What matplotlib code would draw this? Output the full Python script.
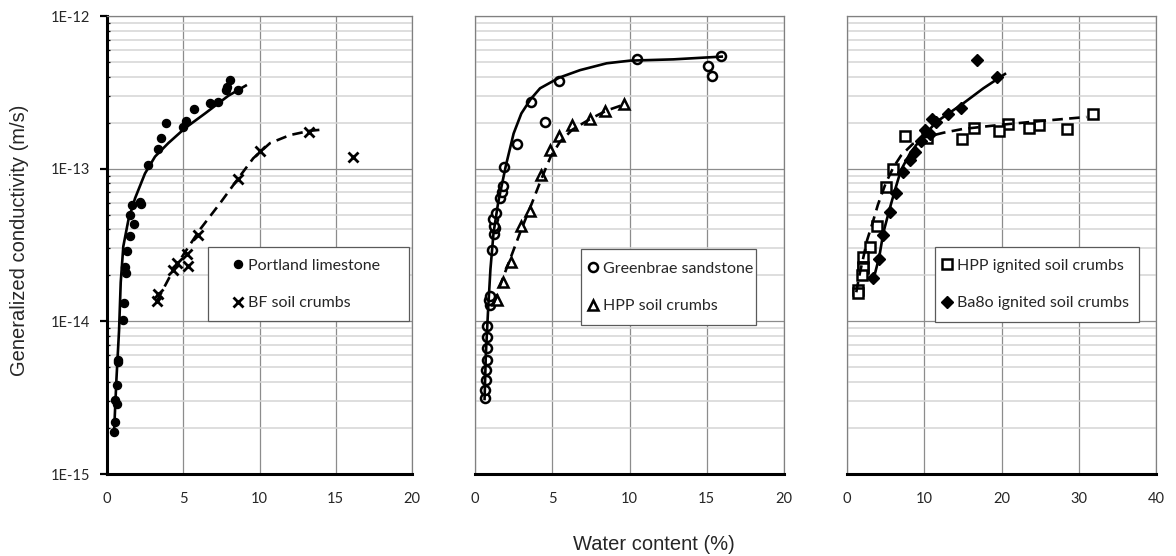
import numpy as np
import matplotlib
matplotlib.use("Agg")
import matplotlib.pyplot as plt
from matplotlib.ticker import LogLocator, FixedLocator, FuncFormatter, NullFormatter
from matplotlib.patches import Rectangle

# ---------------- data ----------------
# Panel 1
portland_w = [8.07, 7.87, 7.78, 8.6, 7.3, 6.75, 5.7, 5.2, 4.96, 3.85, 3.52, 3.37, 2.71,
              2.16, 2.2, 1.64, 1.51, 1.77, 1.51, 1.29, 1.18, 1.22, 1.14, 1.03, 0.70,
              0.72, 0.63, 0.52, 0.66, 0.52, 0.46]
portland_k = [3.81e-13, 3.43e-13, 3.3e-13, 3.3e-13, 2.73e-13, 2.7e-13, 2.45e-13, 2.06e-13,
              1.88e-13, 2.0e-13, 1.6e-13, 1.34e-13, 1.05e-13, 6.05e-14, 5.9e-14, 5.75e-14,
              5.0e-14, 4.33e-14, 3.63e-14, 2.9e-14, 2.28e-14, 2.06e-14, 1.31e-14, 1.02e-14,
              5.58e-15, 5.4e-15, 3.8e-15, 3.06e-15, 2.88e-15, 2.2e-15, 1.87e-15]
portland_fit_w = [0.46, 0.62, 0.79, 0.90, 1.07, 1.40, 1.84, 2.49, 3.15, 4.02, 5.11, 6.43, 7.95, 9.1]
portland_fit_k = [1.86e-15, 4.2e-15, 8.7e-15, 1.8e-14, 3.1e-14, 4.6e-14, 6.4e-14, 9.3e-14,
                  1.2e-13, 1.47e-13, 1.84e-13, 2.3e-13, 3.0e-13, 3.5e-13]

bf_w = [3.30, 3.37, 4.35, 4.61, 5.27, 5.29, 5.99, 8.61, 10.03, 13.27, 16.11]
bf_k = [1.36e-14, 1.5e-14, 2.17e-14, 2.4e-14, 2.76e-14, 2.3e-14, 3.68e-14, 8.55e-14,
        1.31e-13, 1.75e-13, 1.19e-13]
bf_fit_w = [3.26, 4.35, 6.1, 7.41, 8.61, 9.59, 10.69, 12.0, 13.3, 14.3]
bf_fit_k = [1.35e-14, 2.17e-14, 4.0e-14, 5.93e-14, 8.65e-14, 1.17e-13, 1.47e-13, 1.66e-13,
            1.77e-13, 1.81e-13]

# Panel 2
greenbrae_w = [0.65, 0.65, 0.7, 0.7, 0.75, 0.75, 0.8, 0.8, 0.95, 0.9, 0.95, 1.1, 1.25,
               1.3, 1.2, 1.15, 1.35, 1.6, 1.75, 1.8, 1.9, 2.7, 3.6, 4.53, 5.46, 10.47,
               15.06, 15.32, 15.9]
greenbrae_k = [3.15e-15, 3.55e-15, 4.13e-15, 4.8e-15, 5.6e-15, 6.7e-15, 7.9e-15, 9.3e-15,
               1.28e-14, 1.38e-14, 1.47e-14, 2.93e-14, 3.73e-14, 4.08e-14, 4.2e-14,
               4.68e-14, 5.1e-14, 6.4e-14, 7.0e-14, 7.7e-14, 1.03e-13, 1.45e-13, 2.73e-13,
               2.03e-13, 3.77e-13, 5.2e-13, 4.73e-13, 4.07e-13, 5.47e-13]
greenbrae_fit_w = [0.62, 0.7, 0.85, 1.0, 1.2, 1.5, 2.0, 2.5, 3.0, 3.6, 4.21, 5.46, 6.8,
                   8.52, 10.03, 12.84, 15.97]
greenbrae_fit_k = [3.1e-15, 6e-15, 1.2e-14, 2.2e-14, 3.8e-14, 6e-14, 1.05e-13, 1.7e-13,
                   2.3e-13, 2.85e-13, 3.36e-13, 3.95e-13, 4.42e-13, 4.9e-13, 5.1e-13,
                   5.2e-13, 5.42e-13]

hpp_w = [1.42, 1.81, 2.33, 2.98, 3.56, 4.27, 4.85, 5.44, 6.26, 7.44, 8.41, 9.64]
hpp_k = [1.38e-14, 1.8e-14, 2.45e-14, 4.2e-14, 5.3e-14, 9.1e-14, 1.33e-13, 1.64e-13,
         1.93e-13, 2.1e-13, 2.39e-13, 2.64e-13]
hpp_fit_w = [1.2, 1.7, 2.3, 3.0, 3.7, 4.3, 4.9, 5.5, 6.3, 7.4, 8.5, 9.5]
hpp_fit_k = [1.3e-14, 1.8e-14, 2.6e-14, 4.0e-14, 6.0e-14, 8.6e-14, 1.2e-13, 1.5e-13,
             1.8e-13, 2.1e-13, 2.4e-13, 2.6e-13]

# Panel 3
hppig_w = [31.8, 28.44, 24.9, 23.6, 20.88, 19.72, 16.44, 14.85, 10.32, 7.51, 5.91, 5.05,
           3.84, 2.98, 2.12, 2.12, 2.03, 1.99, 1.47, 1.47]
hppig_k = [2.28e-13, 1.81e-13, 1.93e-13, 1.84e-13, 1.95e-13, 1.77e-13, 1.85e-13, 1.56e-13,
           1.58e-13, 1.64e-13, 9.9e-14, 7.55e-14, 4.2e-14, 3.08e-14, 2.63e-14, 2.28e-14,
           2.22e-14, 2.01e-14, 1.6e-14, 1.53e-14]
hppig_fit_w = [1.2, 1.6, 2.1, 2.6, 3.3, 4.0, 5.0, 6.0, 7.0, 8.5, 10.0, 12.5, 15.0, 20.0,
               25.0, 31.0]
hppig_fit_k = [1.55e-14, 2.0e-14, 2.6e-14, 3.4e-14, 4.4e-14, 5.8e-14, 8.0e-14, 1.02e-13,
               1.22e-13, 1.45e-13, 1.6e-13, 1.72e-13, 1.82e-13, 1.94e-13, 2.05e-13, 2.18e-13]

ba80_w = [16.79, 19.38, 14.76, 13.11, 11.52, 10.96, 10.1, 10.74, 9.54, 8.8, 8.16, 7.21,
          6.34, 5.57, 4.7, 4.14, 3.41]
ba80_k = [5.15e-13, 3.96e-13, 2.48e-13, 2.27e-13, 2.03e-13, 2.11e-13, 1.79e-13, 1.68e-13,
          1.52e-13, 1.29e-13, 1.14e-13, 9.56e-14, 6.9e-14, 5.23e-14, 3.68e-14, 2.55e-14,
          1.91e-14]
ba80_fit_w = [3.41, 4.18, 4.7, 5.48, 6.21, 6.99, 8.16, 9.45, 11.6, 15.06, 17.65, 20.45]
ba80_fit_k = [1.87e-14, 2.65e-14, 3.8e-14, 5.36e-14, 7.25e-14, 9.8e-14, 1.26e-13, 1.54e-13,
              2.03e-13, 2.68e-13, 3.36e-13, 4.17e-13]

y_label = "Generalized conductivity (m/s)"
x_label = "Water content (%)"

# ---------------- style ----------------
W, H = 1176, 556
fig = plt.figure(figsize=(W / 100, H / 100), dpi=100)
fig.patch.set_facecolor("white")

tick_font = "Lato"
title_font = "Liberation Sans"
ink = "#262626"
frame_grey = "#808080"

LW = 1.9
DASH = (0, (4.0, 2.4))


def px_axes(left, right, top=16, bottom=474):
    return [left / W, 1 - bottom / H, (right - left) / W, (bottom - top) / H]


def setup(ax, xmax, xstep, show_y):
    ax.set_yscale("log")
    ax.set_ylim(1e-15, 1e-12)
    ax.set_xlim(0, xmax)
    ax.xaxis.set_major_locator(FixedLocator(np.arange(0, xmax + 0.1, xstep)))
    ax.yaxis.set_major_locator(FixedLocator([1e-15, 1e-14, 1e-13, 1e-12]))
    ax.yaxis.set_minor_locator(LogLocator(base=10, subs=np.arange(2, 10)))
    ax.yaxis.set_minor_formatter(NullFormatter())
    ax.grid(True, which="minor", axis="y", color="#d4d4d4", lw=1.1, zorder=0)
    ax.grid(True, which="major", axis="y", color="#8c8c8c", lw=0.9, zorder=0)
    ax.grid(True, which="major", axis="x", color="#8c8c8c", lw=0.9, zorder=0)
    ax.set_axisbelow(True)
    for s in ("top", "right"):
        ax.spines[s].set_color(frame_grey)
        ax.spines[s].set_linewidth(0.9)
    ax.spines["bottom"].set_color("black")
    ax.spines["bottom"].set_linewidth(2.2)
    ax.tick_params(axis="x", length=0, pad=13, labelsize=10.5, labelcolor=ink)
    for lab in ax.get_xticklabels():
        lab.set_fontfamily(tick_font)
    if show_y:
        ax.spines["left"].set_color("black")
        ax.spines["left"].set_linewidth(2.2)
        ax.yaxis.set_major_formatter(
            FuncFormatter(lambda v, p: "1E%d" % int(round(np.log10(v)))))
        ax.tick_params(axis="y", which="major", direction="out", length=5, width=1.6,
                       pad=7, labelsize=10.5, labelcolor=ink)
        ax.tick_params(axis="y", which="minor", direction="in", length=2.5, width=0.9,
                       color="black")
        for lab in ax.get_yticklabels():
            lab.set_fontfamily(tick_font)
    else:
        ax.spines["left"].set_color(frame_grey)
        ax.spines["left"].set_linewidth(0.9)
        ax.tick_params(axis="y", which="both", length=0, labelleft=False)


def legend_box(ax, box, anchor, handles, labels):
    x0, y0, x1, y1 = box
    ax.add_patch(Rectangle((x0, y0), x1 - x0, y1 - y0, transform=ax.transAxes,
                           facecolor="white", edgecolor="#5a5a5a", lw=0.9, zorder=6,
                           clip_on=False))
    leg = ax.legend(handles, labels, loc="center left", bbox_to_anchor=anchor,
                    frameon=False, borderpad=0, borderaxespad=0, handlelength=0.6,
                    handletextpad=0.35, labelspacing=1.45,
                    prop={"family": tick_font, "size": 11.5})
    leg.set_zorder(7)
    for t in leg.get_texts():
        t.set_color(ink)
    return leg


ax1 = fig.add_axes(px_axes(107, 412))
ax2 = fig.add_axes(px_axes(475, 784))
ax3 = fig.add_axes(px_axes(847, 1156))

# ---- panel 1 ----
setup(ax1, 20, 5, True)
h1, = ax1.plot(portland_w, portland_k, "o", ms=5.8, mfc="black", mec="black", zorder=3)
h2, = ax1.plot(bf_w, bf_k, "x", ms=6.5, mew=2.0, color="black", zorder=3)
ax1.plot(portland_fit_w, portland_fit_k, "-", color="black", lw=LW, zorder=4)
ax1.plot(bf_fit_w, bf_fit_k, color="black", lw=LW, linestyle=DASH, zorder=4)
legend_box(ax1, (0.330, 0.334, 0.991, 0.495), (0.414, 0.414), [h1, h2],
           ["Portland limestone", "BF soil crumbs"])

# ---- panel 2 ----
setup(ax2, 20, 5, False)
h3, = ax2.plot(greenbrae_w, greenbrae_k, "o", ms=6.5, mfc="white", mec="black", mew=1.8,
               zorder=3)
h4, = ax2.plot(hpp_w, hpp_k, "^", ms=7, mfc="white", mec="black", mew=1.8, zorder=3)
ax2.plot(greenbrae_fit_w, greenbrae_fit_k, "-", color="black", lw=LW, zorder=4)
ax2.plot(hpp_fit_w, hpp_fit_k, color="black", lw=LW, linestyle=DASH, zorder=4)
legend_box(ax2, (0.343, 0.325, 0.909, 0.491), (0.366, 0.407), [h3, h4],
           ["Greenbrae sandstone", "HPP soil crumbs"])

# ---- panel 3 ----
setup(ax3, 40, 10, False)
h5, = ax3.plot(hppig_w, hppig_k, "s", ms=6.5, mfc="white", mec="black", mew=1.8, zorder=3)
h6, = ax3.plot(ba80_w, ba80_k, "D", ms=6, mfc="black", mec="black", zorder=3)
ax3.plot(hppig_fit_w, hppig_fit_k, color="black", lw=LW, linestyle=DASH, zorder=4)
ax3.plot(ba80_fit_w, ba80_fit_k, "-", color="black", lw=LW, zorder=4)
legend_box(ax3, (0.286, 0.332, 0.946, 0.496), (0.307, 0.414), [h5, h6],
           ["HPP ignited soil crumbs", "Ba8o ignited soil crumbs"])

# ---- axis titles ----
fig.text(20 / W, 1 - 240 / H, y_label, rotation=90, ha="center", va="center",
         fontfamily=title_font, fontsize=14.5, color=ink)
fig.text(654 / W, 1 - 545 / H, x_label, ha="center", va="center",
         fontfamily=title_font, fontsize=14.5, color=ink)

fig.savefig("out.png", dpi=100, facecolor="white")
